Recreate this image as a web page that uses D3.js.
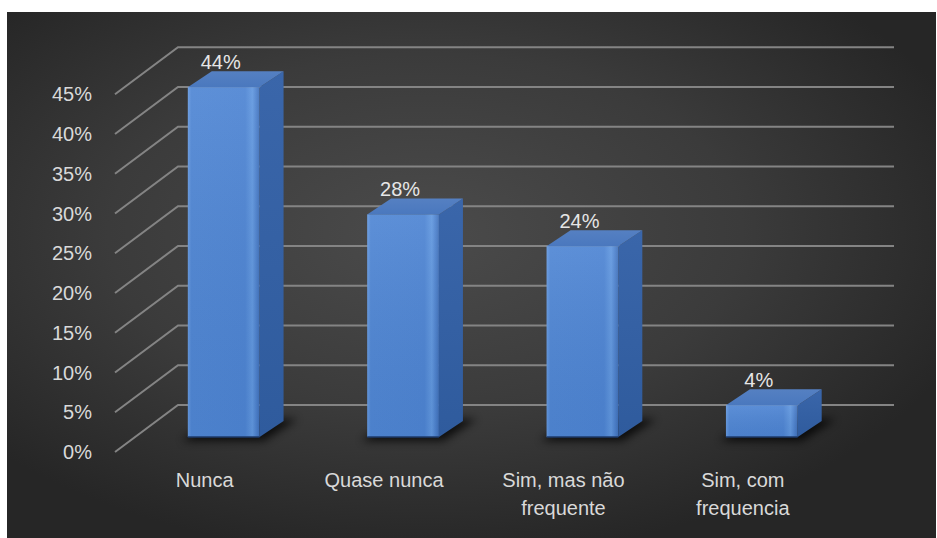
<!DOCTYPE html>
<html>
<head>
<meta charset="utf-8">
<script src="https://cdn.jsdelivr.net/npm/d3@7"></script>
<style>
  html, body { margin: 0; padding: 0; background: #ffffff; }
  svg { display: block; }
  text { font-family: "Liberation Sans", Arial, sans-serif; }
</style>
</head>
<body>
<script>
// Survey answers and their shares (%)
const categories = ["Nunca", "Quase nunca", "Sim, mas não frequente", "Sim, com frequencia"];
const labelLines = [["Nunca"], ["Quase nunca"], ["Sim, mas não", "frequente"], ["Sim, com", "frequencia"]];
const values = [44, 28, 24, 4];
const tickValues = [0, 5, 10, 15, 20, 25, 30, 35, 40, 45];

const W = 937, H = 538;
const svg = d3.select("body").append("svg").attr("width", W).attr("height", H);
const defs = svg.append("defs");

// Background: dark panel with a soft radial light in the middle
const bg = defs.append("radialGradient").attr("id", "bg")
  .attr("cx", "0.45").attr("cy", "0.42").attr("r", "0.62");
bg.append("stop").attr("offset", "0%").attr("stop-color", "#4b4b4b");
bg.append("stop").attr("offset", "55%").attr("stop-color", "#3b3b3b");
bg.append("stop").attr("offset", "100%").attr("stop-color", "#262626");
svg.append("rect").attr("x", 7).attr("y", 12).attr("width", 929).attr("height", 526)
  .attr("fill", "url(#bg)");

// Bar face shading
const frontGrad = defs.append("linearGradient").attr("id", "front").attr("x1", 0).attr("x2", 1).attr("y1", 0).attr("y2", 0);
[["0%", "#6599e0"], ["5%", "#4f86d4"], ["80%", "#4d84d3"], ["90%", "#6097df"], ["95%", "#4e83cf"], ["100%", "#3f70ba"]]
  .forEach(([o, c]) => frontGrad.append("stop").attr("offset", o).attr("stop-color", c));
const frontLight = defs.append("linearGradient").attr("id", "frontLight").attr("x1", 0).attr("x2", 0).attr("y1", 0).attr("y2", 1);
frontLight.append("stop").attr("offset", "0%").attr("stop-color", "#ffffff").attr("stop-opacity", 0.08);
frontLight.append("stop").attr("offset", "100%").attr("stop-color", "#000000").attr("stop-opacity", 0.04);
const sideGrad = defs.append("linearGradient").attr("id", "side").attr("x1", 0).attr("x2", 0).attr("y1", 0).attr("y2", 1);
sideGrad.append("stop").attr("offset", "0%").attr("stop-color", "#3a66aa");
sideGrad.append("stop").attr("offset", "100%").attr("stop-color", "#2f5b9d");
const topGrad = defs.append("linearGradient").attr("id", "topface").attr("x1", 0).attr("x2", 0).attr("y1", 1).attr("y2", 0);
topGrad.append("stop").attr("offset", "0%").attr("stop-color", "#4a78be");
topGrad.append("stop").attr("offset", "100%").attr("stop-color", "#5580c2");
defs.append("filter").attr("id", "blur").attr("x", "-50%").attr("y", "-50%").attr("width", "200%").attr("height", "200%")
  .append("feGaussianBlur").attr("stdDeviation", 4);
defs.append("filter").attr("id", "soft").append("feGaussianBlur").attr("stdDeviation", 0.6);

// Scales: y gives the height on the bars' front plane
const y = d3.scaleLinear().domain([0, 45]).range([437, 79.25]);
const x = d3.scaleBand().domain(categories).range([134, 851.5]).paddingInner(0.6).paddingOuter(0.3);

// Depth offsets: bar depth and wall/floor offsets from the bars' front plane
const bdx = 24, bdy = -16;
const backDy = -32, frontDy = 15;
const wallX0 = 115, wallX1 = 178, wallRight = 894;

// Gridlines on the side wall and back wall
const grid = svg.append("g").attr("stroke", "#848484").attr("stroke-width", 2)
  .attr("fill", "none").attr("filter", "url(#soft)");
tickValues.forEach(v => {
  grid.append("path").attr("d", d3.line()([
    [wallX0, y(v) + frontDy], [wallX1, y(v) + backDy], [wallRight, y(v) + backDy]
  ]));
});

// Tick labels
svg.append("g").selectAll("text").data(tickValues).join("text")
  .attr("x", 92).attr("y", d => y(d) + frontDy)
  .attr("text-anchor", "end").attr("dominant-baseline", "central")
  .attr("fill", "#d9d9d9").attr("font-size", 20)
  .text(d => d + "%");

// Bars
const bars = svg.append("g").selectAll("g").data(categories).join("g");
bars.each(function (c, i) {
  const g = d3.select(this);
  const x0 = x(c), w = x.bandwidth(), x1 = x0 + w;
  const b = y(0), t = y(values[i]);
  // floor shadow
  g.append("path").attr("filter", "url(#blur)").attr("fill", "#000").attr("opacity", 0.75)
    .attr("d", d3.line()([[x0 - 6, b + 4], [x1 + 4, b + 4], [x1 + bdx + 14, b + bdy - 2], [x0 + bdx, b + bdy - 2]]) + "Z");
  // side face
  g.append("path").attr("fill", "url(#side)")
    .attr("d", d3.line()([[x1, t], [x1 + bdx, t + bdy], [x1 + bdx, b + bdy], [x1, b]]) + "Z");
  // top face
  g.append("path").attr("fill", "url(#topface)")
    .attr("d", d3.line()([[x0, t], [x0 + bdx, t + bdy], [x1 + bdx, t + bdy], [x1, t]]) + "Z");
  // front face
  g.append("rect").attr("x", x0).attr("y", t).attr("width", w).attr("height", b - t)
    .attr("fill", "url(#front)");
  g.append("rect").attr("x", x0).attr("y", t).attr("width", w).attr("height", b - t)
    .attr("fill", "url(#frontLight)");
  g.append("line").attr("x1", x0).attr("x2", x1).attr("y1", b).attr("y2", b)
    .attr("stroke", "#1d3a6a").attr("stroke-width", 1.5);
  // value label
  g.append("text").attr("x", x0 + w / 2 - 3).attr("y", t - 18)
    .attr("text-anchor", "middle").attr("fill", "#e6e6e6").attr("font-size", 20)
    .text(values[i] + "%");
});

// Category labels on the floor front edge
const catG = svg.append("g");
categories.forEach((c, i) => {
  const cx = x(c) + x.bandwidth() / 2 - 19;
  const t = catG.append("text").attr("x", cx).attr("y", 487)
    .attr("text-anchor", "middle").attr("fill", "#d9d9d9").attr("font-size", 20);
  labelLines[i].forEach((line, k) => {
    t.append("tspan").attr("x", cx).attr("dy", k === 0 ? 0 : 28).text(line);
  });
});
</script>
</body>
</html>
